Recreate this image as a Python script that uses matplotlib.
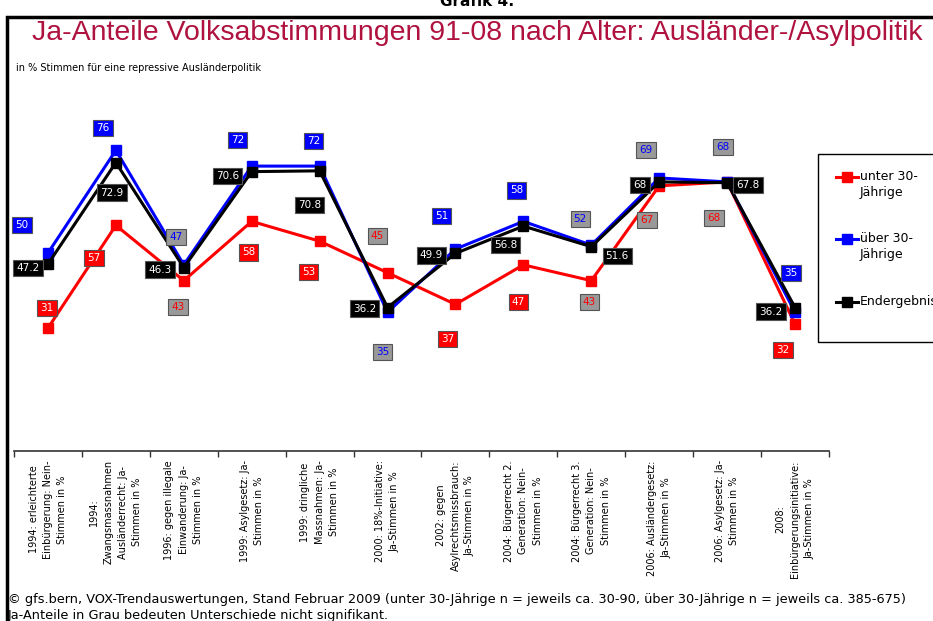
import matplotlib
matplotlib.use('Agg')
import matplotlib.pyplot as plt
from matplotlib.lines import Line2D
from matplotlib.patches import Rectangle

# Daten
kategorien = [
    "1994: erleichterte\nEinbürgerung: Nein-\nStimmen in %",
    "1994:\nZwangsmassnahmen\nAusländerrecht: Ja-\nStimmen in %",
    "1996: gegen illegale\nEinwanderung: Ja-\nStimmen in %",
    "1999: Asylgesetz: Ja-\nStimmen in %",
    "1999: dringliche\nMassnahmen: Ja-\nStimmen in %",
    "2000: 18%-Initiative:\nJa-Stimmen in %",
    "2002: gegen\nAsylrechtsmissbrauch:\nJa-Stimmen in %",
    "2004: Bürgerrecht 2.\nGeneration: Nein-\nStimmen in %",
    "2004: Bürgerrecht 3.\nGeneration: Nein-\nStimmen in %",
    "2006: Ausländergesetz:\nJa-Stimmen in %",
    "2006: Asylgesetz: Ja-\nStimmen in %",
    "2008:\nEinbürgerungsinitiative:\nJa-Stimmen in %",
]
unter30 = [31, 57, 43, 58, 53, 45, 37, 47, 43, 67, 68, 32]
ueber30 = [50, 76, 47, 72, 72, 35, 51, 58, 52, 69, 68, 35]
endergebnis = [47.2, 72.9, 46.3, 70.6, 70.8, 36.2, 49.9, 56.8, 51.6, 68, 67.8, 36.2]
# nicht signifikant -> grau
unter30_grau = [False, False, True, False, False, True, False, False, True, True, True, False]
ueber30_grau = [False, False, True, False, False, True, False, False, True, True, True, False]

# Label-Verschiebungen in Pixel
off_unter = [(-1, 20), (-22, -33), (-6, -26), (-3, -31), (-11, -31), (-10, 37),
             (-8, -35), (-5, -37), (-2, -21), (-12, -34), (-13, -36), (-12, -26)]
off_ueber = [(-26, 28), (-13, 22), (-8, 28), (-14, 26), (-6, 25), (-5, -40),
             (-14, 33), (-7, 31), (-11, 26), (-13, 28), (-4, 35), (-4, 39)]
off_end = [(-20, -4), (-4, -30), (-24, -2), (-24, -4), (-10, -34), (-23, -1),
           (-24, -2), (-18, -19), (26, -9), (-19, -3), (21, -2), (-24, -4)]

W, H = 933, 621
fig = plt.figure(figsize=(W / 100, H / 100), dpi=100)
ax = fig.add_axes([14 / W, (H - 450.5) / H, 815 / W, 395 / H])

x = list(range(len(kategorien)))
rot = '#FF0000'
blau = '#0000FF'

ax.plot(x, unter30, color=rot, lw=2.2, marker='s', ms=7.5, zorder=3)
ax.plot(x, ueber30, color=blau, lw=2.2, marker='s', ms=7.5, zorder=4)
ax.plot(x, endergebnis, color='black', lw=2.2, marker='s', ms=7.5, zorder=5)


def label(xi, yi, txt, off, fc, tc):
    ax.annotate(txt, (xi, yi), xytext=off, textcoords='offset pixels',
                ha='center', va='center', fontsize=7.5, color=tc,
                family='DejaVu Sans', zorder=6,
                bbox=dict(boxstyle='square,pad=0.3', fc=fc, ec='#555555', lw=0.8))


for i in x:
    if unter30_grau[i]:
        label(i, unter30[i], str(unter30[i]), off_unter[i], '#999999', rot)
    else:
        label(i, unter30[i], str(unter30[i]), off_unter[i], rot, 'white')
    if ueber30_grau[i]:
        label(i, ueber30[i], str(ueber30[i]), off_ueber[i], '#999999', blau)
    else:
        label(i, ueber30[i], str(ueber30[i]), off_ueber[i], blau, 'white')
    label(i, endergebnis[i], f"{endergebnis[i]:g}", off_end[i], 'black', 'white')

ax.set_xlim(-0.5, len(kategorien) - 0.5)
ax.set_ylim(0, 100)
ax.set_yticks([])
ax.set_xticks([i - 0.5 for i in range(len(kategorien) + 1)])
ax.set_xticklabels([])
ax.set_xticks(x, minor=True)
ax.set_xticklabels(kategorien, minor=True, rotation=90, ha='center', va='top',
                   multialignment='center', fontsize=7, family='DejaVu Sans',
                   linespacing=1.55)
ax.tick_params(axis='x', which='major', length=4, width=1, color='#333333')
ax.tick_params(axis='x', which='minor', length=0, pad=7)
for s in ['top', 'right', 'left']:
    ax.spines[s].set_visible(False)
ax.spines['bottom'].set_linewidth(1.2)
ax.spines['bottom'].set_color('#333333')
ax.patch.set_alpha(0)

# Rahmen
fig.add_artist(Rectangle((7.5 / W, -0.05), 1.1, 1 - 17 / H + 0.05,
                         transform=fig.transFigure, fill=False, ec='black', lw=2.5))

fig.text(477 / W, 1 - 2 / H, "Grafik 4:", ha='center', va='center', fontsize=11,
         weight='bold', family='DejaVu Sans')
fig.text(477 / W, 1 - 33 / H, "Ja-Anteile Volksabstimmungen 91-08 nach Alter: Ausländer-/Asylpolitik",
         ha='center', va='center', fontsize=20.5, color='#B0123F',
         family='Liberation Sans')
fig.text(16 / W, 1 - 68 / H, "in % Stimmen für eine repressive Ausländerpolitik",
         ha='left', va='center', fontsize=7, family='DejaVu Sans')
fig.text(8 / W, 1 - 600 / H,
         "© gfs.bern, VOX-Trendauswertungen, Stand Februar 2009 (unter 30-Jährige n = jeweils ca. 30-90, über 30-Jährige n = jeweils ca. 385-675)",
         ha='left', va='center', fontsize=9.3, family='DejaVu Sans')
fig.text(8 / W, 1 - 616 / H, "Ja-Anteile in Grau bedeuten Unterschiede nicht signifikant.",
         ha='left', va='center', fontsize=9.3, family='DejaVu Sans')

# Legende
fig.add_artist(Rectangle((818 / W, 1 - 342 / H), 0.3, 188 / H,
                         transform=fig.transFigure, fill=False, ec='black', lw=1))
eintraege = [("unter 30-\nJährige", rot, 177), ("über 30-\nJährige", blau, 239),
             ("Endergebnis", 'black', 302)]
for txt, col, yy in eintraege:
    fig.add_artist(Line2D([836 / W, 858 / W], [1 - yy / H] * 2, transform=fig.transFigure,
                          color=col, lw=2.2))
    fig.add_artist(Line2D([847 / W], [1 - yy / H], transform=fig.transFigure,
                          color=col, marker='s', ms=7.5))
    fig.text(860 / W, 1 - (yy - 7) / H, txt, ha='left', va='top', fontsize=9,
             family='DejaVu Sans', linespacing=1.3)

fig.savefig('out.png', dpi=100)
